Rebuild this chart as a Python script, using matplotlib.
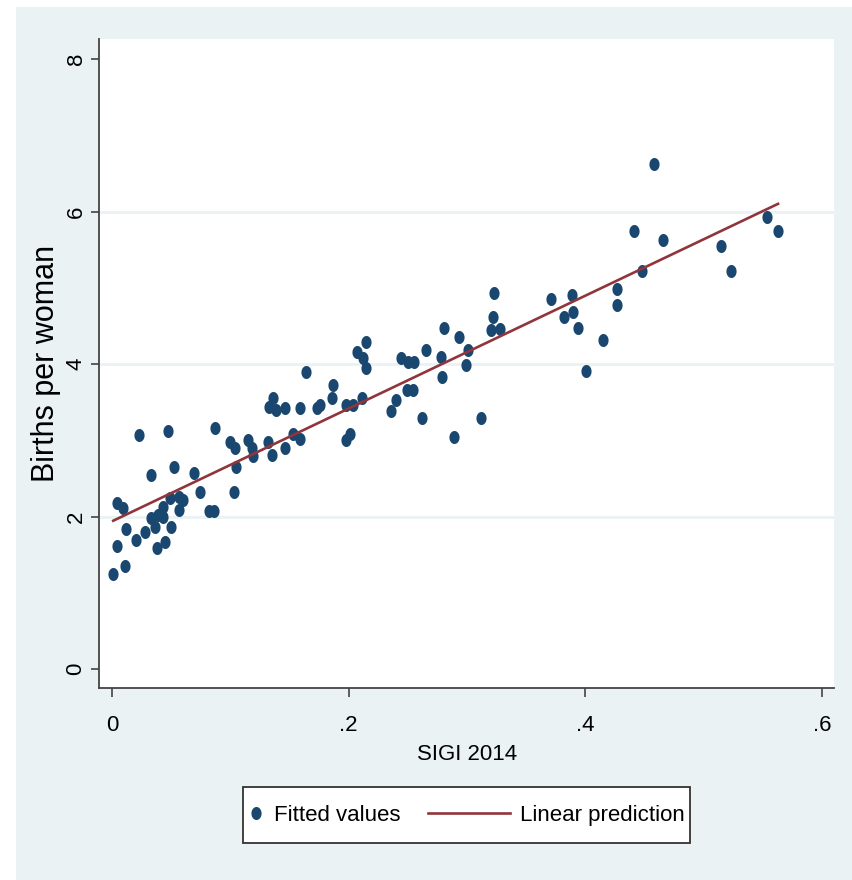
import numpy as np
import matplotlib
matplotlib.use('Agg')
import matplotlib.pyplot as plt
from matplotlib.patches import Rectangle
from matplotlib.legend_handler import HandlerLine2D
from matplotlib.lines import Line2D

# SIGI 2014 score vs births per woman
sigi = [0.001, 0.011, 0.004, 0.012, 0.020, 0.004, 0.009, 0.023, 0.047, 0.033,
        0.052, 0.069, 0.074, 0.103, 0.082, 0.086, 0.028, 0.033, 0.039, 0.043,
        0.036, 0.050, 0.043, 0.049, 0.057, 0.060, 0.057, 0.038, 0.045, 0.087,
        0.100, 0.104, 0.105, 0.115, 0.118, 0.119, 0.132, 0.135, 0.146, 0.153,
        0.159, 0.136, 0.133, 0.139, 0.146, 0.159, 0.164, 0.173, 0.176, 0.187,
        0.186, 0.198, 0.204, 0.211, 0.201, 0.198, 0.215, 0.207, 0.212, 0.215,
        0.236, 0.240, 0.249, 0.254, 0.244, 0.250, 0.255, 0.265, 0.262, 0.278,
        0.279, 0.281, 0.293, 0.301, 0.299, 0.289, 0.312, 0.323, 0.322, 0.320,
        0.328, 0.371, 0.389, 0.382, 0.390, 0.394, 0.401, 0.415, 0.427, 0.427,
        0.441, 0.448, 0.458, 0.466, 0.515, 0.523, 0.554, 0.563]
births = [1.25, 1.35, 1.61, 1.84, 1.70, 2.18, 2.11, 3.07, 3.13, 2.55,
          2.65, 2.57, 2.33, 2.33, 2.08, 2.08, 1.80, 1.98, 2.02, 2.00,
          1.87, 1.87, 2.13, 2.24, 2.26, 2.22, 2.09, 1.59, 1.67, 3.16,
          2.98, 2.90, 2.65, 3.01, 2.90, 2.79, 2.98, 2.81, 2.90, 3.08,
          3.02, 3.55, 3.44, 3.40, 3.42, 3.42, 3.90, 3.42, 3.46, 3.73,
          3.55, 3.46, 3.46, 3.55, 3.09, 3.01, 4.29, 4.16, 4.08, 3.95,
          3.38, 3.53, 3.66, 3.66, 4.08, 4.03, 4.03, 4.19, 3.30, 4.10,
          3.83, 4.47, 4.36, 4.18, 3.99, 3.05, 3.29, 4.93, 4.62, 4.45,
          4.46, 4.86, 4.91, 4.62, 4.69, 4.47, 3.91, 4.32, 4.99, 4.78,
          5.74, 5.22, 6.62, 5.63, 5.55, 5.22, 5.93, 5.74]

x_ticks = [0, 0.2, 0.4, 0.6]
x_ticklabels = ['0', '.2', '.4', '.6']
y_ticks = [0, 2, 4, 6, 8]

navy = '#1a476f'
maroon = '#90353b'
bg = '#eaf2f3'
fam = ['Liberation Sans', 'DejaVu Sans']
hsize = 16

fig = plt.figure(figsize=(8.53, 8.80), dpi=100)
fig.patch.set_facecolor('white')
fig.patches.append(Rectangle((16 / 853, 0), 1 - 16 / 853, 1 - 7 / 880,
                             transform=fig.transFigure, facecolor=bg,
                             edgecolor='none', zorder=-10))
# legend box
fig.patches.append(Rectangle((243 / 853, 1 - 843 / 880), 447 / 853, 56 / 880,
                             transform=fig.transFigure, facecolor='white',
                             edgecolor='#333333', lw=1.3, zorder=1))

ax = fig.add_axes([99.5 / 853, 1 - 688 / 880, (834 - 99.5) / 853, (688 - 39) / 880])
ax.set_facecolor('white')

# ellipse shaped dots like in the picture
t = np.linspace(0, 2 * np.pi, 60)
dot = np.column_stack([0.78 * np.cos(t), np.sin(t)])

ax.scatter(sigi, births, s=88, marker=dot, color=navy, linewidths=0,
           zorder=3, label='Fitted values')

coef = np.polyfit(sigi, births, 1)
xl = np.array([min(sigi), max(sigi)])
ax.plot(xl, np.polyval(coef, xl), color=maroon, lw=1.9, zorder=4,
        label='Linear prediction')

for g in [2, 4, 6]:
    ax.axhline(g, color=bg, lw=2, zorder=1)

ax.set_xlim(-0.0106, 0.6103)
ax.set_ylim(-0.245, 8.262)

ax.spines['top'].set_visible(False)
ax.spines['right'].set_visible(False)
for s in ['left', 'bottom']:
    ax.spines[s].set_color('#444444')
    ax.spines[s].set_linewidth(1.3)

ax.set_xticks(x_ticks)
ax.set_xticklabels(x_ticklabels, family=fam, fontsize=hsize)
ax.set_yticks(y_ticks)
ax.set_yticklabels([str(v) for v in y_ticks], family=fam, fontsize=16, rotation=90,
                   va='center')
ax.tick_params(axis='x', length=6.5, width=1.2, color='#444444', pad=13)
ax.tick_params(axis='y', length=5.8, width=1.2, color='#444444', pad=3.5)

ax.set_xlabel('SIGI 2014', family=fam, fontsize=hsize)
ax.xaxis.set_label_coords(0.5, -0.086)
ax.set_ylabel('Births per woman', family=fam, fontsize=22)
ax.yaxis.set_label_coords(-0.053, 0.5)


class LongLine(HandlerLine2D):
    # line handle drawn longer than its box, reaching to the left
    def create_artists(self, legend, orig_handle, xdescent, ydescent, width, height,
                       fontsize, trans):
        ext = 4.26 * width
        return super().create_artists(legend, orig_handle, xdescent + ext, ydescent,
                                      width + ext, height, fontsize, trans)


handles, labels = ax.get_legend_handles_labels()
leg = fig.legend(handles, labels, loc='center', bbox_to_anchor=(466.5 / 853, 1 - 815 / 880),
                 ncol=2, prop={'family': fam, 'size': hsize}, frameon=False,
                 handlelength=0.7, handletextpad=0.47, borderpad=0, borderaxespad=0,
                 columnspacing=4.23, scatterpoints=1, scatteryoffsets=[0.5], numpoints=1,
                 handler_map={Line2D: LongLine(numpoints=1)})
leg.set_zorder(5)

fig.savefig('out.png', dpi=100, facecolor=fig.get_facecolor())
